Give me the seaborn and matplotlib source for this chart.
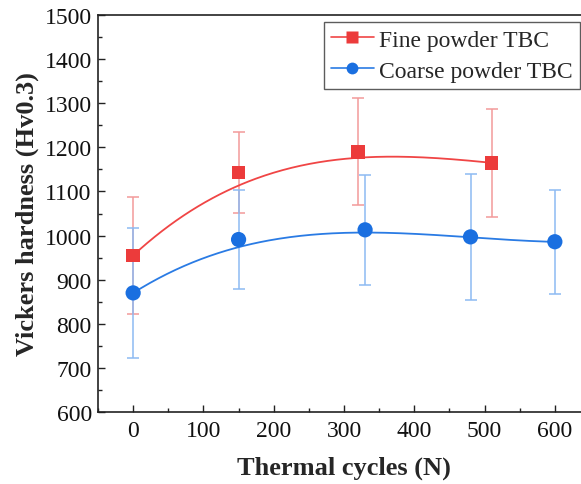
import numpy as np
import matplotlib
matplotlib.use("Agg")
import matplotlib.pyplot as plt
from matplotlib.lines import Line2D
from matplotlib.ticker import MultipleLocator
import seaborn as sns
import pandas as pd

# Hardness measurements (Hv0.3) versus thermal cycles
fine_cycles = [0, 150, 320, 510]
fine_hv = [955, 1143, 1190, 1165]
fine_err = [133, 92, 121, 123]

coarse_cycles = [0, 150, 330, 480, 600]
coarse_hv = [870, 991, 1013, 997, 986]
coarse_err = [148, 112, 124, 142, 118]

# Trend-curve values of each series
fine_trend_cycles = [0, 150, 266, 320, 373, 510]
fine_trend_hv = [955, 1113, 1167, 1177, 1178, 1165]
coarse_trend_cycles = [0, 150, 330, 480, 600]
coarse_trend_hv = [870, 973, 1008, 995, 986]

labels = ["Fine powder TBC", "Coarse powder TBC"]

sns.set_theme(style="ticks")
plt.rcParams["font.family"] = ["Liberation Serif", "DejaVu Serif"]

red_mark, red_line, red_err = "#ec3b3b", "#f04545", "#f39a9a"
blue_mark, blue_line, blue_err = "#1a6fe0", "#2a7be4", "#8dbaf2"

fig = plt.figure(figsize=(5.81, 4.85), dpi=100)
ax = fig.add_axes([98 / 581, 72 / 485, 492 / 581, 397 / 485])

fine = pd.DataFrame({"N": fine_cycles, "Hv": fine_hv})
coarse = pd.DataFrame({"N": coarse_cycles, "Hv": coarse_hv})


def smooth(xs, ys, deg=3):
    coef = np.polyfit(xs, ys, deg)
    grid = np.linspace(min(xs), max(xs), 200)
    return pd.DataFrame({"N": grid, "Hv": np.polyval(coef, grid)})


ax.errorbar(fine_cycles, fine_hv, yerr=fine_err, fmt="none", ecolor=red_err,
            elinewidth=1.1, capsize=4.5, capthick=1.1, zorder=2)
ax.errorbar(coarse_cycles, coarse_hv, yerr=coarse_err, fmt="none", ecolor=blue_err,
            elinewidth=1.1, capsize=4.5, capthick=1.1, zorder=2)

sns.lineplot(data=smooth(fine_trend_cycles, fine_trend_hv), x="N", y="Hv",
             color=red_line, lw=1.3, ax=ax, zorder=3)
sns.lineplot(data=smooth(coarse_trend_cycles, coarse_trend_hv), x="N", y="Hv",
             color=blue_line, lw=1.3, ax=ax, zorder=3)

sns.scatterplot(data=fine, x="N", y="Hv", marker="s", s=95, color=red_mark,
                edgecolor="none", ax=ax, zorder=4)
sns.scatterplot(data=coarse, x="N", y="Hv", marker="o", s=120, color=blue_mark,
                edgecolor="none", ax=ax, zorder=4)

ax.set_xlim(-50, 650)
ax.set_ylim(600, 1500)
ax.xaxis.set_major_locator(MultipleLocator(100))
ax.xaxis.set_minor_locator(MultipleLocator(50))
ax.yaxis.set_major_locator(MultipleLocator(100))
ax.yaxis.set_minor_locator(MultipleLocator(50))
ax.tick_params(which="both", direction="in", colors="#222222", labelcolor="#111111")
ax.tick_params(which="major", length=5, width=1.0, labelsize=17)
ax.tick_params(axis="y", which="major", pad=4.5)
ax.tick_params(axis="x", which="major", pad=6)
ax.tick_params(which="minor", length=3, width=1.0)
for side in ax.spines.values():
    side.set_linewidth(1.2)
    side.set_color("#222222")

ax.set_xlabel("Thermal cycles (N)", fontsize=19, fontweight="bold", labelpad=10)
ax.set_ylabel("Vickers hardness (Hv0.3)", fontsize=19, fontweight="bold", labelpad=4)

handles = [
    Line2D([], [], color=red_line, lw=1.2, marker="s", markersize=8,
           markerfacecolor=red_mark, markeredgecolor="none"),
    Line2D([], [], color=blue_line, lw=1.2, marker="o", markersize=8.5,
           markerfacecolor=blue_mark, markeredgecolor="none"),
]
leg = ax.legend(handles, labels, loc="upper left",
                bbox_to_anchor=(226 / 492, 1 - 7 / 397),
                fontsize=17, frameon=True, fancybox=False, edgecolor="#333333",
                handlelength=1.8, handletextpad=0.25, borderpad=0.3,
                labelspacing=0.4, borderaxespad=0)
leg.get_frame().set_linewidth(1.0)

fig.savefig("out.png", dpi=100)
